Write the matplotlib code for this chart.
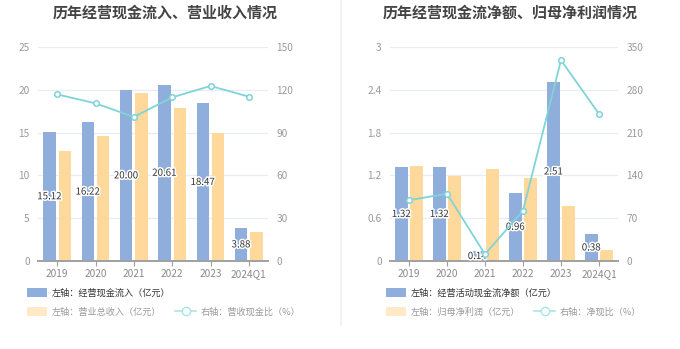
import numpy as np
import matplotlib
matplotlib.use('Agg')
import matplotlib.pyplot as plt
import matplotlib.patheffects as pe
from matplotlib.patches import Patch
from matplotlib.lines import Line2D

plt.rcParams['font.family'] = ['Noto Sans CJK SC', 'DejaVu Sans']

# data
years = ['2019', '2020', '2021', '2022', '2023', '2024Q1']
cash_in = [15.12, 16.22, 20.00, 20.61, 18.47, 3.88]
revenue = [12.85, 14.55, 19.65, 17.85, 14.95, 3.35]
cash_ratio = [116.8, 110.5, 101.0, 114.7, 122.7, 115.2]

net_cf = [1.32, 1.32, 0.14, 0.96, 2.51, 0.38]
net_profit = [1.33, 1.19, 1.29, 1.16, 0.765, 0.158]
net_ratio = [99.5, 110.0, 11.0, 82.5, 328.5, 240.5]

BLUE = '#8FAEDC'
ORANGE = '#FED99B'
LINE = '#7FD4D9'
GRID = '#E8ECF6'

fig = plt.figure(figsize=(6.8, 3.49), dpi=100)


def panel(rect, title, tx, bars1, bars2, line, ylim, yticks, y2lim, y2ticks, fmt,
          leg1, leg2, leg3, legx):
    ax = fig.add_axes(rect)
    x = np.arange(len(years))
    w = 0.33
    ax.bar(x - 0.2, bars1, width=w, color=BLUE, zorder=2)
    ax.bar(x + 0.2, bars2, width=w, color=ORANGE, zorder=2)
    for xi, v in zip(x, bars1):
        ax.text(xi - 0.2, v / 2, '%.2f' % v, ha='center', va='center', fontsize=7,
                color='#333333', zorder=5,
                path_effects=[pe.withStroke(linewidth=2.2, foreground='white')])
    ax.set_xlim(-0.5, len(years) - 0.5)
    ax.set_ylim(*ylim)
    ax.set_yticks(yticks)
    ax.set_yticklabels([fmt(t) for t in yticks])
    ax.set_xticks(x)
    ax.set_xticklabels(years)
    ax.grid(axis='y', color=GRID, linewidth=0.9, zorder=0)
    for s in ['top', 'right', 'left']:
        ax.spines[s].set_visible(False)
    ax.spines['bottom'].set_color('#A0A0A0')
    ax.spines['bottom'].set_linewidth(1.4)
    ax.tick_params(axis='y', length=0, labelsize=7.3, labelcolor='#9A9A9A', pad=6)
    ax.tick_params(axis='x', length=3.5, color='#A0A0A0', labelsize=7.3,
                   labelcolor='#8A8A8A', pad=2)

    ax2 = ax.twinx()
    ax2.plot(x, line, color=LINE, linewidth=1.3, marker='o', markersize=4,
             markerfacecolor='white', markeredgecolor=LINE, markeredgewidth=1.1, zorder=4)
    ax2.set_ylim(*y2lim)
    ax2.set_yticks(y2ticks)
    for s in ['top', 'right', 'left', 'bottom']:
        ax2.spines[s].set_visible(False)
    ax2.tick_params(axis='y', length=0, labelsize=7.3, labelcolor='#9A9A9A', pad=6)

    fig.text(tx, 0.963, title, ha='center', va='center', fontsize=10.8,
             fontweight='bold', color='#444444')

    h1 = [Patch(facecolor=BLUE, edgecolor='none')]
    l1 = fig.legend(h1, [leg1], loc='center left', bbox_to_anchor=(legx, 1 - 293 / 349),
                    frameon=False, fontsize=6.6, handlelength=2.2, handleheight=1.1,
                    handletextpad=0.55, borderpad=0, borderaxespad=0)
    for t in l1.get_texts():
        t.set_color('#333333')
    h2 = [Patch(facecolor='#FFE9C6', edgecolor='none'),
          Line2D([0], [0], color='#A9E4E8', linewidth=1.2, marker='o', markersize=6,
                 markerfacecolor='white', markeredgecolor='#A9E4E8')]
    l2 = fig.legend(h2, [leg2, leg3], loc='center left',
                    bbox_to_anchor=(legx, 1 - 312 / 349), ncol=2,
                    frameon=False, fontsize=6.6, handlelength=2.2, handleheight=1.1,
                    handletextpad=0.55, columnspacing=1.5, borderpad=0, borderaxespad=0)
    for t in l2.get_texts():
        t.set_color('#9A9A9A')
    return ax


panel([38 / 680, 88 / 349, 230 / 680, 214 / 349], '历年经营现金流入、营业收入情况', 165 / 680,
      cash_in, revenue, cash_ratio, (0, 25), [0, 5, 10, 15, 20, 25],
      (0, 150), [0, 30, 60, 90, 120, 150], lambda t: '%d' % t,
      '左轴：经营现金流入（亿元）', '左轴：营业总收入（亿元）', '右轴：营收现金比（%）', 27 / 680)

panel([390 / 680, 88 / 349, 228 / 680, 214 / 349], '历年经营现金流净额、归母净利润情况', 510 / 680,
      net_cf, net_profit, net_ratio, (0, 3), [0, 0.6, 1.2, 1.8, 2.4, 3],
      (0, 350), [0, 70, 140, 210, 280, 350],
      lambda t: '0' if t == 0 else ('%d' % t if t == int(t) else '%.1f' % t),
      '左轴：经营活动现金流净额（亿元）', '左轴：归母净利润（亿元）', '右轴：净现比（%）', 386 / 680)

# separator between the two panels
fig.add_artist(Line2D([341 / 680, 341 / 680], [1 - 325 / 349, 1.0], color='#F0F0F0',
                      linewidth=1.2, transform=fig.transFigure))

fig.savefig('out.png', dpi=100)
